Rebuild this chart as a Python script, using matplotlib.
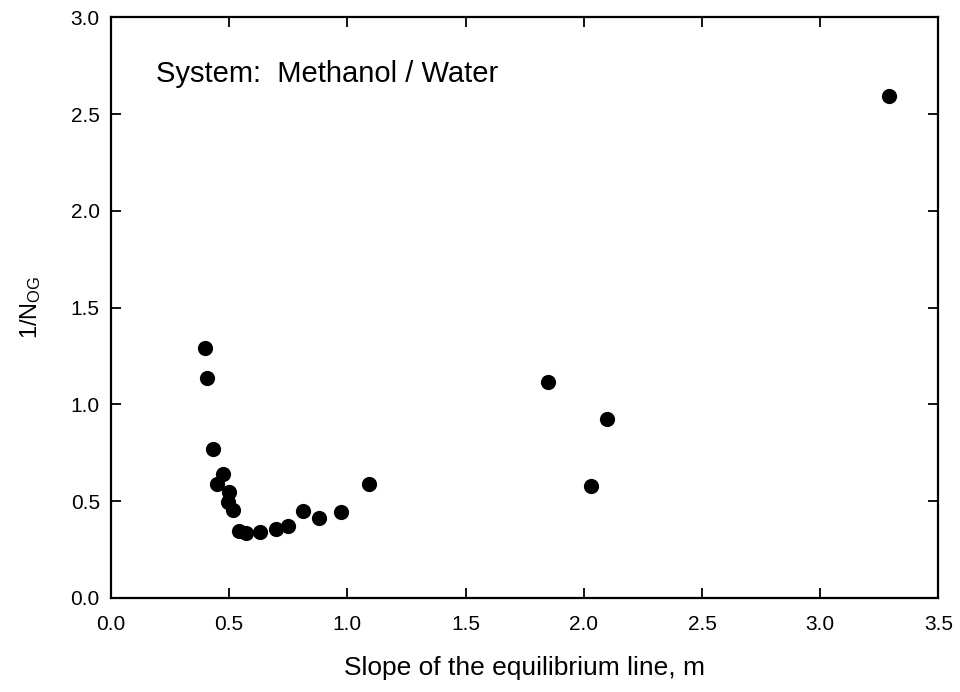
import matplotlib
matplotlib.use("Agg")
import matplotlib.pyplot as plt

plt.rcParams['font.family'] = ['Liberation Sans', 'DejaVu Sans']
plt.rcParams['mathtext.fontset'] = 'custom'
plt.rcParams['mathtext.rm'] = 'Liberation Sans'
plt.rcParams['mathtext.it'] = 'Liberation Sans'

slope_m = [0.40, 0.406, 0.43, 0.476, 0.448, 0.50, 0.495, 0.515, 0.543, 0.571,
           0.632, 0.697, 0.75, 0.812, 0.88, 0.975, 1.092,
           1.85, 2.03, 2.10, 3.29]
inv_nog = [1.29, 1.136, 0.77, 0.64, 0.59, 0.545, 0.497, 0.454, 0.347, 0.333,
           0.342, 0.356, 0.371, 0.448, 0.414, 0.443, 0.591,
           1.115, 0.58, 0.926, 2.595]

xticks = [0.0, 0.5, 1.0, 1.5, 2.0, 2.5, 3.0, 3.5]
yticks = [0.0, 0.5, 1.0, 1.5, 2.0, 2.5, 3.0]

fig = plt.figure(figsize=(9.6, 6.92), dpi=100)
ax = fig.add_axes([0.1155, 0.136, 0.862, 0.839])
ax.scatter(slope_m, inv_nog, s=120, color='black', zorder=3, linewidths=0)
ax.set_xlim(0, 3.5)
ax.set_ylim(0, 3.0)
ax.set_xticks(xticks)
ax.set_yticks(yticks)
ax.set_xticklabels([f"{v:.1f}" for v in xticks])
ax.set_yticklabels([f"{v:.1f}" for v in yticks])
ax.tick_params(direction='in', length=7, width=1.3, labelsize=15,
               top=True, right=True)
ax.tick_params(axis='x', pad=12)
ax.tick_params(axis='y', pad=8)
for s in ax.spines.values():
    s.set_linewidth(1.6)
ax.set_xlabel('Slope of the equilibrium line, m', fontsize=19, labelpad=16)
ax.set_ylabel(r'1/N$_{\mathrm{OG}}$', fontsize=17, labelpad=20)
ax.text(0.19, 2.665, 'System:  Methanol / Water', fontsize=21, va='baseline')
fig.savefig('out.png', dpi=100)
